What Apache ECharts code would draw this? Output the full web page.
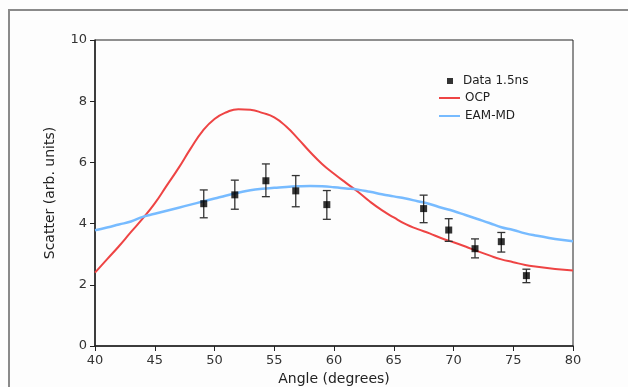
<!DOCTYPE html>
<html>
<head>
<meta charset="utf-8">
<script src="https://cdn.jsdelivr.net/npm/echarts@6/dist/echarts.min.js"></script>
<style>
html,body{margin:0;padding:0;background:#fdfdfd;}
#c{width:628px;height:387px;}
</style>
</head>
<body>
<div id="c"></div>
<script>
// Data
const curveAngles = [40,41,42,43,44,45,46,47,48,49,50,51,52,53,54,55,56,57,58,59,60,61,62,63,64,65,66,67,68,69,70,71,72,73,74,75,76,77,78,79,80];
const ocpValues = [2.40,2.83,3.26,3.72,4.17,4.66,5.24,5.82,6.45,7.02,7.42,7.64,7.74,7.72,7.62,7.47,7.17,6.77,6.34,5.95,5.63,5.33,5.04,4.72,4.44,4.20,3.98,3.82,3.68,3.52,3.39,3.25,3.10,2.96,2.83,2.74,2.65,2.59,2.54,2.50,2.47];
const eamValues = [3.78,3.87,3.97,4.07,4.22,4.32,4.42,4.52,4.62,4.72,4.82,4.92,5.01,5.09,5.14,5.17,5.20,5.22,5.23,5.22,5.19,5.15,5.11,5.04,4.96,4.89,4.82,4.73,4.64,4.52,4.41,4.28,4.15,4.02,3.88,3.79,3.68,3.60,3.53,3.47,3.42];
const dataAngles = [49.1,51.7,54.3,56.8,59.4,67.5,69.6,71.8,74.0,76.1];
const dataValues = [4.65,4.94,5.40,5.07,4.62,4.49,3.79,3.18,3.41,2.30];
const errLow = [4.19,4.47,4.88,4.55,4.14,4.03,3.42,2.88,3.07,2.07];
const errHigh = [5.10,5.42,5.95,5.57,5.08,4.93,4.16,3.50,3.71,2.51];
const xTicks = [40,45,50,55,60,65,70,75,80];
const yTicks = [0,2,4,6,8,10];

const FONT = 'DejaVu Sans';
const chart = echarts.init(document.getElementById('c'), null, {renderer:'canvas'});
const zip = (a,b) => a.map((v,i)=>[v,b[i]]);
const legendText = {fontFamily:FONT, fontSize:12, color:'#222'};

chart.setOption({
  backgroundColor:'#fdfdfd',
  animation:false,
  graphic:[{
    type:'rect', shape:{x:9,y:10,width:640,height:400},
    style:{fill:'none', stroke:'#8a8a8a', lineWidth:2}, silent:true, z:-1
  }],
  grid:{left:95, top:40, right:55, bottom:41, show:true, borderColor:'#222', borderWidth:1,
        backgroundColor:'transparent', containLabel:false, outerBoundsMode:'none'},
  legend:[
    {
      orient:'vertical', left:447, top:75, padding:0, itemWidth:6, itemHeight:6,
      textStyle:Object.assign({padding:[0,0,0,5]}, legendText),
      data:[{name:'Data 1.5ns', icon:'rect'}]
    },
    {
      orient:'vertical', left:439, top:91, padding:0, itemGap:4, itemWidth:21, itemHeight:2,
      textStyle:Object.assign({lineHeight:14}, legendText),
      data:[{name:'OCP', icon:'rect'}, {name:'EAM-MD', icon:'rect'}]
    }
  ],
  xAxis:{
    type:'value', min:xTicks[0], max:xTicks[xTicks.length-1], interval:5,
    name:'Angle (degrees)', nameLocation:'middle', nameGap:26,
    nameTextStyle:{fontFamily:FONT, fontSize:14, color:'#222'},
    axisLine:{lineStyle:{color:'#222', width:1.5}},
    axisTick:{show:true, inside:false, length:5, lineStyle:{color:'#222'}},
    axisLabel:{fontFamily:FONT, fontSize:13, color:'#333', margin:8},
    splitLine:{show:false}
  },
  yAxis:{
    type:'value', min:yTicks[0], max:yTicks[yTicks.length-1], interval:2,
    name:'Scatter (arb. units)', nameLocation:'middle', nameGap:38,
    nameTextStyle:{fontFamily:FONT, fontSize:14, color:'#222'},
    axisLine:{show:true, lineStyle:{color:'#222', width:1.5}},
    axisTick:{show:true, inside:false, length:5, lineStyle:{color:'#222'}},
    axisLabel:{fontFamily:FONT, fontSize:13, color:'#333', margin:8},
    splitLine:{show:false}
  },
  series:[
    {
      name:'OCP', type:'line', data:zip(curveAngles, ocpValues), smooth:true,
      symbol:'none', lineStyle:{color:'#ee4444', width:2}, itemStyle:{color:'#ee4444'}, z:2
    },
    {
      name:'EAM-MD', type:'line', data:zip(curveAngles, eamValues), smooth:true,
      symbol:'none', lineStyle:{color:'#77bbff', width:2.5}, itemStyle:{color:'#77bbff'}, z:2
    },
    {
      name:'errbars', type:'custom', z:3,
      data: dataAngles.map((a,i)=>[a, errLow[i], errHigh[i]]),
      renderItem:function(params, api){
        const lo = api.coord([api.value(0), api.value(1)]);
        const hi = api.coord([api.value(0), api.value(2)]);
        const w = 4;
        const st = {stroke:'#333', lineWidth:1.3};
        return {type:'group', children:[
          {type:'line', shape:{x1:lo[0],y1:lo[1],x2:hi[0],y2:hi[1]}, style:st},
          {type:'line', shape:{x1:lo[0]-w,y1:lo[1],x2:lo[0]+w,y2:lo[1]}, style:st},
          {type:'line', shape:{x1:hi[0]-w,y1:hi[1],x2:hi[0]+w,y2:hi[1]}, style:st}
        ]};
      },
      encode:{x:0, y:[1,2]}
    },
    {
      name:'Data 1.5ns', type:'scatter', data:zip(dataAngles, dataValues),
      symbol:'rect', symbolSize:7, itemStyle:{color:'#000'}, z:4
    }
  ]
});
</script>
</body>
</html>
